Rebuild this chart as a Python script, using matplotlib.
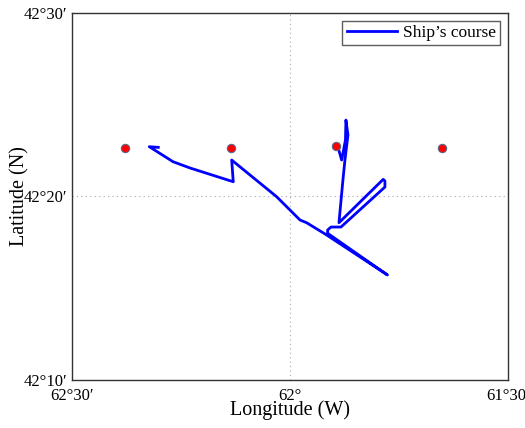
import matplotlib
matplotlib.use("Agg")
import matplotlib.pyplot as plt

plt.rcParams['font.family'] = ['Liberation Serif', 'DejaVu Serif']

# Ship's course (longitude W in degrees, latitude N in degrees)
course_lon = [61.8909, 61.8817, 61.8730, 61.8719, 61.8673, 61.8742, 61.8788,
              61.8879, 61.7865, 61.7826, 61.7826, 61.8833, 61.9062, 61.9138,
              61.9138, 61.7768, 61.9177, 61.9619, 61.9772, 62.0306, 62.1336,
              62.1300, 62.2291, 62.2680, 62.3223, 62.3017]
course_lat = [42.3790, 42.3663, 42.3845, 42.4026, 42.3890, 42.3663, 42.3482,
              42.3094, 42.3488, 42.3473, 42.3418, 42.3055, 42.3055, 42.3028,
              42.2998, 42.2620, 42.2987, 42.3094, 42.3119, 42.3330, 42.3663,
              42.3466, 42.3591, 42.3648, 42.3784, 42.3778]

# Station points
station_lon = [62.3786, 62.1359, 61.8937, 61.6514]
station_lat = [42.3775, 42.3775, 42.3790, 42.3775]

xticks = [62.5, 62.0, 61.5]
xticklabels = ["62°30′", "62°", "61°30′"]
yticks = [42 + 10/60, 42 + 20/60, 42.5]
yticklabels = ["42°10′", "42°20′", "42°30′"]

fig = plt.figure(figsize=(5.25, 4.28), dpi=100)
ax = fig.add_axes([0.1366, 0.1121, 0.8316, 0.8582])

ax.plot(course_lon, course_lat, color='#0000ff', linewidth=2.0, label='Ship’s course', zorder=3)
ax.plot(station_lon, station_lat, linestyle='none', marker='o', markersize=6,
        markerfacecolor='#ff0000', markeredgecolor='#5a6a8a', markeredgewidth=0.8, zorder=4)

ax.set_xlim(62.5, 61.5)
ax.set_ylim(42 + 10/60, 42.5)
ax.set_xticks(xticks)
ax.set_xticklabels(xticklabels, fontsize=12)
ax.set_yticks(yticks)
ax.set_yticklabels(yticklabels, fontsize=12)
ax.tick_params(axis='x', length=0, pad=6)
ax.tick_params(axis='y', length=0, pad=3)
ax.grid(True, linestyle=(0, (1, 3)), color='#aaaaaa', linewidth=0.8)

for s in ax.spines.values():
    s.set_color('#333333')
    s.set_linewidth(1.0)

ax.set_xlabel('Longitude (W)', fontsize=14.5, labelpad=-3)
ax.set_ylabel('Latitude (N)', fontsize=14.5, labelpad=-4)

leg = ax.legend(loc='upper right', fontsize=12.5, frameon=True, fancybox=False,
                edgecolor='#333333', handlelength=2.9, handletextpad=0.35,
                borderpad=0.25, borderaxespad=0.45)
leg.get_frame().set_linewidth(1.0)

fig.savefig('out.png', dpi=100)
